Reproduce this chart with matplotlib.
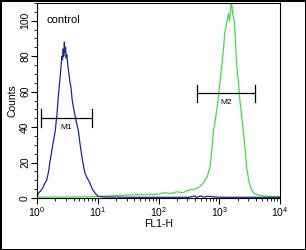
import matplotlib
matplotlib.use("Agg")
import matplotlib.pyplot as plt
import numpy as np

plt.rcParams['font.family'] = ['Liberation Sans', 'DejaVu Sans']
plt.rcParams['mathtext.fontset'] = 'custom'
plt.rcParams['mathtext.rm'] = 'Liberation Sans'
plt.rcParams['mathtext.it'] = 'Liberation Sans'

# blue histogram (control), FL1-H exponent vs counts
blue_exp = [0.00, 0.02, 0.06, 0.10, 0.13, 0.16, 0.19, 0.21, 0.25, 0.30, 0.33, 0.35,
            0.38, 0.40, 0.41, 0.42, 0.43, 0.44, 0.45, 0.46, 0.47, 0.48, 0.49, 0.51,
            0.54, 0.56, 0.58, 0.60, 0.64, 0.68, 0.71, 0.74, 0.77, 0.79, 0.83, 0.87,
            0.91, 0.95, 1.00, 1.10, 1.5, 2.0, 2.5, 2.6, 2.62, 2.7, 2.75, 2.8, 3.0,
            3.5, 4.0]
blue_cnt = [0, 2.6, 4, 6, 8.5, 10, 15, 19.7, 28, 38, 48, 57,
            68, 76, 80, 78, 84, 80, 88, 82, 85, 79, 81, 74,
            66, 62, 55, 51, 44, 38, 30, 23, 17, 14, 11, 8.5,
            5, 3, 1, 0.6, 0.4, 0.4, 0.4, 1.2, 0.4, 1.2, 0.4, 1.0, 0.4,
            0.4, 0.4]

# green histogram (sample)
green_exp = [0.0, 0.5, 1.0, 1.2, 1.4, 1.6, 1.8, 2.0, 2.1, 2.2, 2.3, 2.4, 2.5, 2.6,
             2.68, 2.75, 2.8, 2.85, 2.88, 2.9, 2.94, 2.98, 3.01, 3.04, 3.07, 3.09,
             3.12, 3.15, 3.17, 3.19, 3.2, 3.22, 3.25, 3.27, 3.29, 3.32, 3.34, 3.37,
             3.40, 3.43, 3.45, 3.49, 3.53, 3.58, 3.64, 3.75, 3.9, 4.0]
green_cnt = [0.5, 0.5, 0.8, 1.2, 1.5, 1.8, 2.0, 2.2, 3.0, 2.5, 3.5, 3.0, 4.5, 5.0,
             6.4, 9, 12, 17.6, 28, 36.5, 45, 55, 65, 74, 84, 93,
             98, 104, 100, 108, 112, 104, 100, 86, 74, 64, 55, 46,
             36.6, 26, 17.6, 9, 4.5, 2.5, 1.7, 1.0, 0.8, 0.8]

# markers: (left, right, level, label)
m_left = [1.15, 436]
m_right = [8.1, 3870]
m_level = [45, 59]
m_names = ['M1', 'M2']

fig = plt.figure(figsize=(3.06, 2.5), dpi=100)
fig.patch.set_edgecolor('black')
fig.patch.set_linewidth(2)
ax = fig.add_axes([0.121, 0.208, 0.794, 0.78])

ax.plot(10 ** np.array(green_exp), green_cnt, color='#44dd44', lw=0.9)
ax.plot(10 ** np.array(blue_exp), blue_cnt, color='#1a2a8c', lw=0.9)

for l, r, lev, name in zip(m_left, m_right, m_level, m_names):
    ax.plot([l, r], [lev, lev], color='black', lw=0.9)
    ax.plot([l, l], [lev - 5, lev + 5], color='black', lw=0.9)
    ax.plot([r, r], [lev - 5, lev + 5], color='black', lw=0.9)
    ax.text(np.sqrt(l * r), lev - 3, name, fontsize=6, ha='center', va='top')

ax.set_xscale('log')
ax.set_xlim(1, 1e4)
ax.set_ylim(0, 110)
ax.set_yticks([0, 20, 40, 60, 80, 100])
ax.set_yticks(np.arange(0, 111, 5), minor=True)
ax.tick_params(axis='both', which='both', direction='out', labelsize=7.5, pad=1)
ax.tick_params(axis='both', which='major', length=4)
ax.tick_params(axis='both', which='minor', length=2.5)
for lab in ax.get_yticklabels():
    lab.set_rotation(90)
    lab.set_va('center')
ax.set_xlabel('FL1-H', fontsize=7.5, labelpad=0)
ax.set_ylabel('Counts', fontsize=7.5, labelpad=2)
ax.text(0.04, 0.94, 'control', transform=ax.transAxes, fontsize=8, va='top')

fig.savefig('out.png', dpi=100)
